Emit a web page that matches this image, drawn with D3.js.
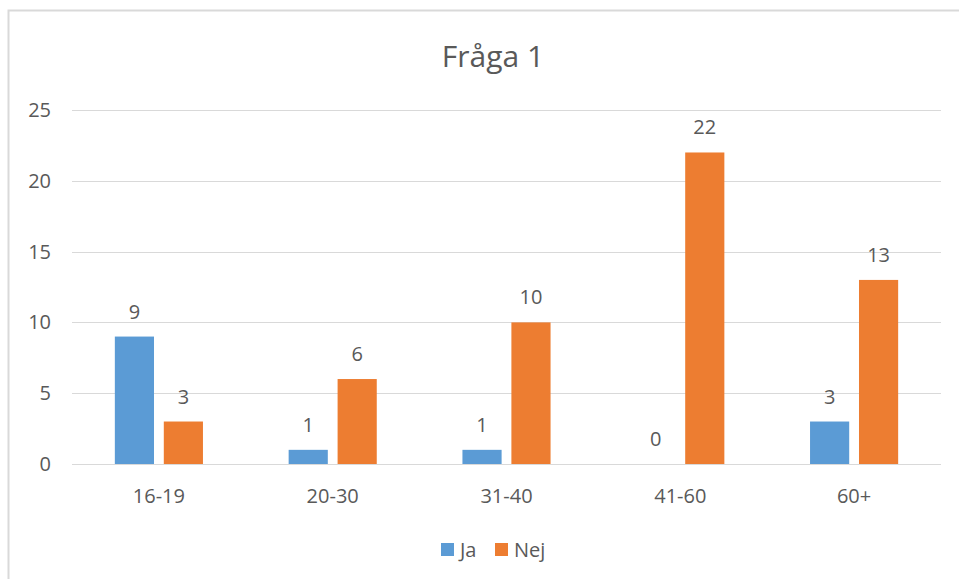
<!DOCTYPE html>
<html>
<head>
<meta charset="utf-8">
<script src="https://cdnjs.cloudflare.com/ajax/libs/d3/7.8.5/d3.min.js"></script>
<style>
  body { margin: 0; background: #fff; }
  text { font-family: "Open Sans", sans-serif; fill: #595959; }
</style>
</head>
<body>
<div id="chart"></div>
<script>
/* chart data */
var categories = ["16-19", "20-30", "31-40", "41-60", "60+"];
var seriesNames = ["Ja", "Nej"];
var jaValues = [9, 1, 1, 0, 3];
var nejValues = [3, 6, 10, 22, 13];
var yTicks = [0, 5, 10, 15, 20, 25];
var title = "Fråga 1";

var width = 959;
var height = 579;
var colors = ["#5B9BD5", "#ED7D31"];

var svg = d3.select("#chart")
    .append("svg")
    .attr("width", width)
    .attr("height", height);

/* chart border (left and top visible) */
svg.append("rect")
    .attr("x", 8.5)
    .attr("y", 10.5)
    .attr("width", 1000)
    .attr("height", 1000)
    .attr("fill", "none")
    .attr("stroke", "#D9D9D9")
    .attr("stroke-width", 2);

var plot = { left: 72, right: 941, top: 110, bottom: 464 };

var x0 = d3.scaleBand()
    .domain(categories)
    .range([plot.left, plot.right])
    .paddingInner(0)
    .paddingOuter(0);

var groupW = x0.bandwidth() * 0.507;
var x1 = d3.scaleBand()
    .domain(seriesNames)
    .range([-groupW / 2, groupW / 2])
    .paddingInner(0.2)
    .paddingOuter(0);

var y = d3.scaleLinear()
    .domain([0, 25])
    .range([plot.bottom, plot.top]);

/* gridlines */
svg.append("g")
    .selectAll("line")
    .data(yTicks)
    .enter().append("line")
    .attr("x1", plot.left)
    .attr("x2", plot.right)
    .attr("y1", d => Math.round(y(d)) + 0.5)
    .attr("y2", d => Math.round(y(d)) + 0.5)
    .attr("stroke", "#D9D9D9")
    .attr("stroke-width", 1);

/* y tick labels */
svg.append("g")
    .selectAll("text")
    .data(yTicks)
    .enter().append("text")
    .attr("x", 51)
    .attr("y", d => y(d))
    .attr("dy", "0.35em")
    .attr("text-anchor", "end")
    .style("font-size", "20px")
    .text(d => d);

/* category labels */
svg.append("g")
    .selectAll("text")
    .data(categories)
    .enter().append("text")
    .attr("x", d => x0(d) + x0.bandwidth() / 2)
    .attr("y", 496)
    .attr("dy", "0.35em")
    .attr("text-anchor", "middle")
    .style("font-size", "20px")
    .text(d => d);

/* bars */
var rows = categories.map(function(c, i) {
    return { cat: c, values: [jaValues[i], nejValues[i]] };
});

var groups = svg.append("g")
    .selectAll("g")
    .data(rows)
    .enter().append("g")
    .attr("transform", d => "translate(" + (x0(d.cat) + x0.bandwidth() / 2) + ",0)");

groups.selectAll("rect")
    .data(d => d.values.map((v, j) => ({ name: seriesNames[j], value: v, j: j })))
    .enter().append("rect")
    .attr("x", d => x1(d.name))
    .attr("width", x1.bandwidth())
    .attr("y", d => y(d.value))
    .attr("height", d => y(0) - y(d.value))
    .attr("fill", d => colors[d.j]);

/* value labels */
groups.selectAll("text")
    .data(d => d.values.map((v, j) => ({ name: seriesNames[j], value: v, j: j })))
    .enter().append("text")
    .attr("x", d => x1(d.name) + x1.bandwidth() / 2)
    .attr("y", d => y(d.value) - 25)
    .attr("dy", "0.35em")
    .attr("text-anchor", "middle")
    .style("font-size", "20px")
    .text(d => d.value);

/* title */
svg.append("text")
    .attr("x", 493)
    .attr("y", 56)
    .attr("dy", "0.35em")
    .attr("text-anchor", "middle")
    .style("font-size", "30px")
    .text(title);

/* legend */
var legendX = [441, 495];
var legend = svg.append("g")
    .selectAll("g")
    .data(seriesNames)
    .enter().append("g")
    .attr("transform", (d, i) => "translate(" + legendX[i] + ",543)");

legend.append("rect")
    .attr("width", 13)
    .attr("height", 13)
    .attr("fill", (d, i) => colors[i]);

legend.append("text")
    .attr("x", 19)
    .attr("y", 6.5)
    .attr("dy", "0.35em")
    .style("font-size", "20px")
    .text(d => d);
</script>
</body>
</html>
